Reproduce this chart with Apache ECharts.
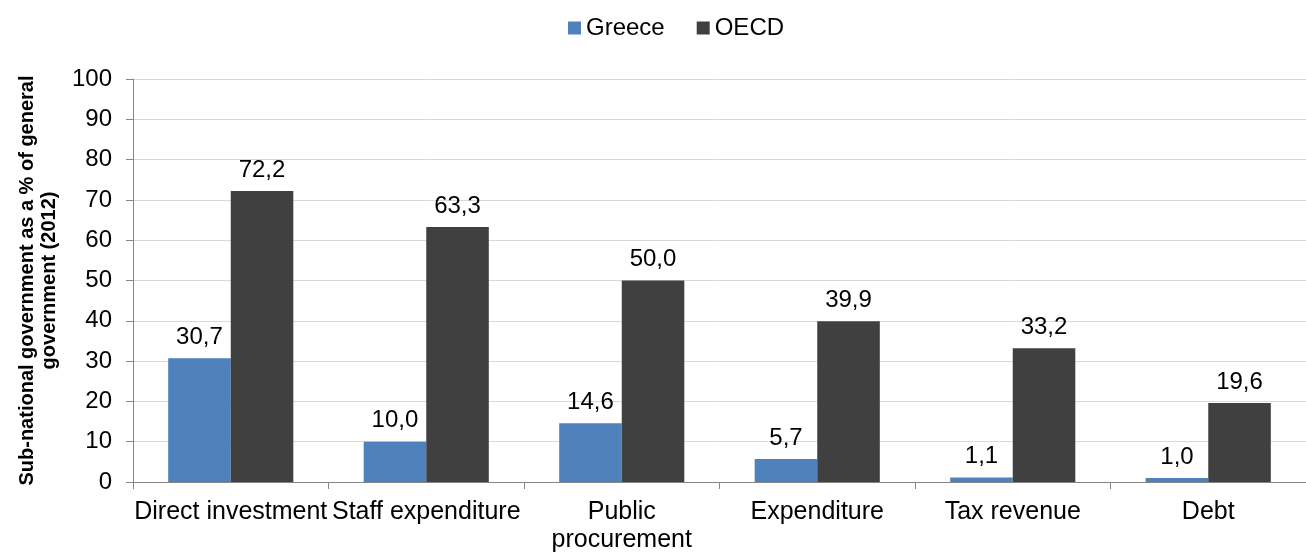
<!DOCTYPE html>
<html><head><meta charset="utf-8">
<script src="https://cdn.jsdelivr.net/npm/echarts@6/dist/echarts.min.js"></script>
<style>html,body{margin:0;padding:0;background:#fff}#c{width:1306px;height:554px}</style>
</head><body><div id="c"></div>
<script>
const categories = ['Direct investment', 'Staff expenditure', 'Public\nprocurement', 'Expenditure', 'Tax revenue', 'Debt'];
const greece = [30.7, 10.0, 14.6, 5.7, 1.1, 1.0];
const oecd = [72.2, 63.3, 50.0, 39.9, 33.2, 19.6];
const yTicks = { min: 0, max: 100, interval: 10 };

const font = '"Liberation Sans", Arial, sans-serif';
const fmt = p => p.value.toFixed(1).replace('.', ',');
const chart = echarts.init(document.getElementById('c'), null, { renderer: 'canvas' });
chart.setOption({
  animation: false,
  textStyle: { fontFamily: font },
  legend: {
    top: 11, left: 563, itemWidth: 13, itemHeight: 13, itemGap: 32,
    icon: 'rect',
    textStyle: { fontSize: 24, color: '#000', fontFamily: font },
    data: ['Greece', 'OECD']
  },
  grid: { left: 133, right: 0, top: 79, bottom: 71, containLabel: false },
  xAxis: {
    type: 'category', data: categories,
    axisLine: { lineStyle: { color: '#868686', width: 1 } },
    axisTick: { show: true, length: 7, lineStyle: { color: '#868686' } },
    axisLabel: { fontSize: 25, color: '#000', margin: 16, lineHeight: 28, fontFamily: font, interval: 0 }
  },
  yAxis: {
    type: 'value', min: yTicks.min, max: yTicks.max, interval: yTicks.interval,
    name: 'Sub-national government as a % of general\ngovernment (2012)',
    nameLocation: 'middle', nameGap: 73, nameRotate: 90,
    nameTextStyle: { fontSize: 20, fontWeight: 'bold', color: '#000', lineHeight: 22, fontFamily: font },
    axisLine: { show: true, lineStyle: { color: '#868686', width: 1 } },
    axisTick: { show: true, length: 7, lineStyle: { color: '#868686' } },
    splitLine: { lineStyle: { color: '#d9d9d9', width: 1 } },
    axisLabel: { fontSize: 24, color: '#000', margin: 21, fontFamily: font }
  },
  series: [
    { name: 'Greece', type: 'bar', data: greece, barGap: '0%', barCategoryGap: '36%',
      itemStyle: { color: '#4F81BD' },
      label: { show: true, position: 'top', distance: 9, fontSize: 24, color: '#000', formatter: fmt, fontFamily: font } },
    { name: 'OECD', type: 'bar', data: oecd, barGap: '0%', barCategoryGap: '36%',
      itemStyle: { color: '#404040' },
      label: { show: true, position: 'top', distance: 9, fontSize: 24, color: '#000', formatter: fmt, fontFamily: font } }
  ]
});
</script></body></html>
